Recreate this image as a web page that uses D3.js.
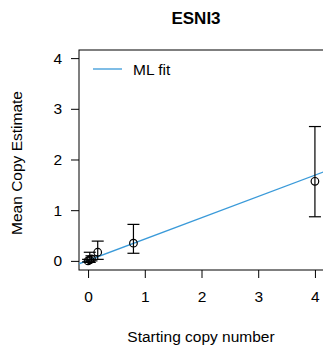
<!DOCTYPE html>
<html>
<head>
<meta charset="utf-8">
<script src="https://cdn.jsdelivr.net/npm/d3@7"></script>
<style>
  body { margin: 0; background: #fff; }
  svg text { font-family: Arial, "Liberation Sans", sans-serif; fill: #000; }
</style>
</head>
<body>
<div id="chart"></div>
<script>
// data
const startCopy = [0.0, 0.03, 0.06, 0.17, 0.8, 4];
const meanEst = [0.0, 0.02, 0.04, 0.17, 0.35, 1.57];
const errLow = [-0.02, -0.03, 0.0, 0.03, 0.15, 0.87];
const errHigh = [0.03, 0.17, 0.1, 0.39, 0.72, 2.65];
const fitIntercept = 0.01;
const fitSlope = 0.42;
const xTicks = [0, 1, 2, 3, 4];
const yTicks = [0, 1, 2, 3, 4];

const width = 323, height = 347;
const box = { left: 79, top: 50, right: 324, bottom: 270 };

const svg = d3.select('#chart').append('svg')
    .attr('width', width)
    .attr('height', height);

const x = d3.scaleLinear().domain([-0.16, 4.16]).range([box.left, box.right]);
const y = d3.scaleLinear().domain([-0.18, 4.16]).range([box.bottom, box.top]);

// clip for the fit line
svg.append('clipPath').attr('id', 'clip')
  .append('rect')
    .attr('x', box.left).attr('y', box.top)
    .attr('width', box.right - box.left).attr('height', box.bottom - box.top);

// plot box
svg.append('rect')
    .attr('x', box.left).attr('y', box.top)
    .attr('width', box.right - box.left).attr('height', box.bottom - box.top)
    .attr('fill', 'none').attr('stroke', '#000').attr('stroke-width', 1);

// axes
const yAxis = d3.axisLeft(y).tickValues(yTicks).tickSize(8).tickPadding(9).tickFormat(d3.format('d'));
const xAxis = d3.axisBottom(x).tickValues(xTicks).tickSize(8).tickPadding(13).tickFormat(d3.format('d'));

const gy = svg.append('g').attr('transform', `translate(${box.left},0)`).call(yAxis);
const gx = svg.append('g').attr('transform', `translate(0,${box.bottom})`).call(xAxis);
[gx, gy].forEach(g => {
    g.select('.domain').remove();
    g.selectAll('.tick line').attr('stroke', '#000');
    g.selectAll('.tick text').style('font-size', '15.5px');
});

// fit line
svg.append('line')
    .attr('clip-path', 'url(#clip)')
    .attr('x1', x(-0.16)).attr('y1', y(fitIntercept + fitSlope * -0.16))
    .attr('x2', x(4.2)).attr('y2', y(fitIntercept + fitSlope * 4.2))
    .attr('stroke', '#3a9ad9').attr('stroke-width', 1.3);

// error bars
const pts = startCopy.map((d, i) => ({ x: d, y: meanEst[i], lo: errLow[i], hi: errHigh[i] }));
const eb = svg.append('g').attr('stroke', '#000').attr('stroke-width', 1.2).attr('fill', 'none');
pts.forEach(p => {
    eb.append('line').attr('x1', x(p.x)).attr('x2', x(p.x)).attr('y1', y(p.lo)).attr('y2', y(p.hi));
    eb.append('line').attr('x1', x(p.x) - 6).attr('x2', x(p.x) + 6).attr('y1', y(p.lo)).attr('y2', y(p.lo));
    eb.append('line').attr('x1', x(p.x) - 6).attr('x2', x(p.x) + 6).attr('y1', y(p.hi)).attr('y2', y(p.hi));
    eb.append('circle').attr('cx', x(p.x)).attr('cy', y(p.y)).attr('r', 3.8);
});

// legend
svg.append('line')
    .attr('x1', 93).attr('x2', 122).attr('y1', 69).attr('y2', 69)
    .attr('stroke', '#3a9ad9').attr('stroke-width', 1.3);
svg.append('text').attr('x', 133).attr('y', 75).style('font-size', '15.5px').text('ML fit');

// titles
svg.append('text').attr('x', 196).attr('y', 24).attr('text-anchor', 'middle')
    .style('font-size', '17px').style('font-weight', 'bold').text('ESNI3');
svg.append('text').attr('x', 201).attr('y', 342).attr('text-anchor', 'middle')
    .style('font-size', '15.5px').text('Starting copy number');
svg.append('text')
    .attr('transform', `translate(22,${(box.top + box.bottom) / 2 + 3}) rotate(-90)`)
    .attr('text-anchor', 'middle')
    .style('font-size', '15.5px').text('Mean Copy Estimate');
</script>
</body>
</html>
